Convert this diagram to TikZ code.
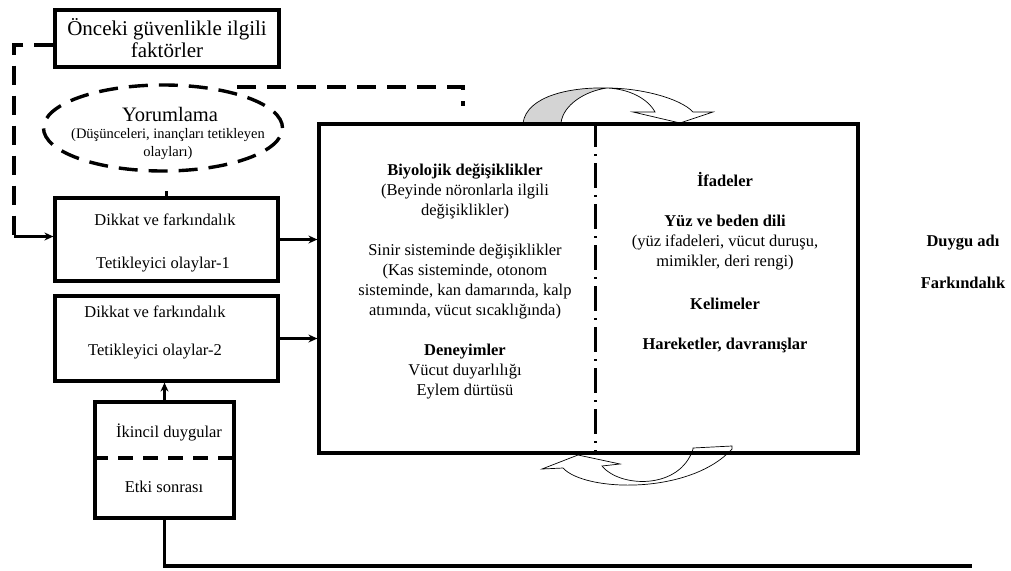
\documentclass[tikz,border=0pt]{standalone}
\usepackage{fontspec}
\setmainfont{Liberation Serif}
\usetikzlibrary{arrows.meta,shapes.geometric}
\definecolor{ribbongray}{RGB}{212,212,212}

\begin{document}
\begin{tikzpicture}[x=1pt,y=-1pt,>={Stealth[length=9pt,width=8pt]},
  box/.style={draw, line width=3.2pt, inner sep=0pt},
  dashln/.style={line width=3.4pt, dash pattern=on 19pt off 11pt},
  link/.style={->, line width=3.2pt},
  txt/.style={font=\fontsize{16.5}{20}\selectfont, align=center, inner sep=0pt},
  ribbon/.style={draw, line width=0.7pt, line join=miter}]
\useasboundingbox (0,0) rectangle (1011,570);
\draw[ribbon, fill=ribbongray] (523,123) .. controls (527,96) and (570,87) .. (607,88) .. controls (585,91) and (563,105) .. (561,123) -- cycle;
\draw[ribbon, fill=white] (607,88) .. controls (640,88) and (680,98) .. (693,112) -- (713,112) -- (680,123) -- (633,112) -- (655,112) .. controls (648,99) and (630,89) .. (607,88) -- cycle;
\draw[ribbon, fill=white] (578,455) -- (542,469) -- (563,468) .. controls (585,492) and (690,495) .. (732,449) -- (732,446) -- (693,448) -- (693,449) .. controls (680,490) and (620,488) .. (602,466) -- (620,464) -- cycle;
\node[box, minimum width=224pt, minimum height=57pt, font=\fontsize{21}{22}\selectfont, align=center] (prior) at (167,38.5) {Önceki güvenlikle ilgili\\faktörler};
\node[ellipse, draw, dashln, minimum width=239pt, minimum height=86pt] (yorum) at (163,128) {};
\node[font=\fontsize{20.5}{22}\selectfont, inner sep=0pt] (yorumtitle) at (170,114) {Yorumlama};
\node[font=\fontsize{14.5}{18}\selectfont, align=center, inner sep=0pt] (yorumsub) at (168,144) {(Düşünceleri, inançları tetikleyen\\olayları)};
\node[box, minimum width=223pt, minimum height=83pt] (trig1) at (166.5,239.5) {};
\node[txt] (trig1a) at (165,220) {Dikkat ve farkındalık};
\node[txt] (trig1b) at (163,265) {Tetikleyici olaylar-1};
\node[box, minimum width=223pt, minimum height=85pt] (trig2) at (166.5,338.5) {};
\node[txt] (trig2a) at (155,312) {Dikkat ve farkındalık};
\node[txt] (trig2b) at (155,352) {Tetikleyici olaylar-2};
\node[box, minimum width=139pt, minimum height=116pt] (second) at (164.5,460) {};
\node[txt] (seca) at (169,432) {İkincil duygular};
\node[txt] (secb) at (164,487) {Etki sonrası};
\coordinate (secmid) at (0,458);
\draw[line width=3.6pt, dash pattern=on 15pt off 10pt] (second.west |- secmid) -- (second.east |- secmid);
\node[box, minimum width=539pt, minimum height=329pt] (emo) at (588.5,288.5) {};
\coordinate (split) at (595,0);
\draw[line width=3pt, dash pattern=on 25pt off 7pt on 2pt off 7pt] (emo.north -| split) -- (emo.south -| split);
\node[txt] (body) at (465,281) {\textbf{Biyolojik değişiklikler}\\(Beyinde nöronlarla ilgili\\değişiklikler)\\[20pt]Sinir sisteminde değişiklikler\\(Kas sisteminde, otonom\\sisteminde, kan damarında, kalp\\atımında, vücut sıcaklığında)\\[20pt]\textbf{Deneyimler}\\Vücut duyarlılığı\\Eylem dürtüsü};
\node[txt] (expr) at (725,263) {\textbf{İfadeler}\\[20pt]\textbf{Yüz ve beden dili}\\(yüz ifadeleri, vücut duruşu,\\mimikler, deri rengi)\\[23pt]\textbf{Kelimeler}\\[20pt]\textbf{Hareketler, davranışlar}};
\node[txt] (dname) at (963,243) {\textbf{Duygu adı}};
\node[txt] (aware) at (963,283) {\textbf{Farkındalık}};
\coordinate (lcorner) at (14,0);
\draw[dashln] ([yshift=-6.5pt]prior.west) -| (lcorner |- trig1.west);
\draw[link] ([yshift=3pt]lcorner |- trig1.west) -- ([yshift=3pt]trig1.west);
\draw[line width=3.2pt] (trig1.north) -- ++(0,-5);
\coordinate (yfrom) at (237,87);
\coordinate (yto) at (463,106);
\draw[dashln] (yfrom) -- (yto |- yfrom) -- (yto);
\draw[link] (trig1.east) -- (trig1.east -| emo.west);
\draw[link] (trig2.east) -- (trig2.east -| emo.west);
\draw[link] (second.north) -- (second.north |- trig2.south);
\coordinate (tail) at (972,566);
\draw[line width=3.2pt] (second.south) |- (tail);
\end{tikzpicture}
\end{document}
